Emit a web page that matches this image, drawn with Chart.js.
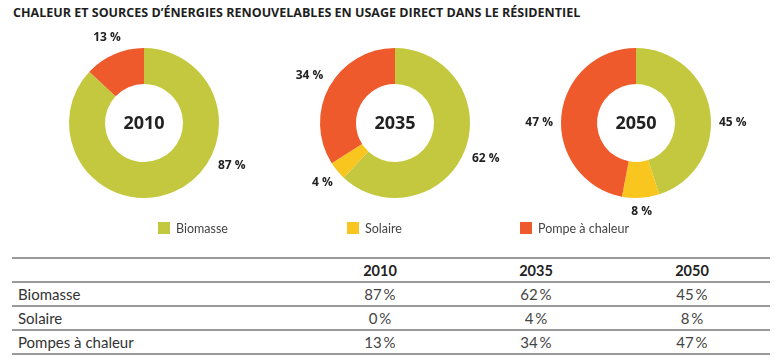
<!DOCTYPE html>
<html><head><meta charset="utf-8">
<script src="https://cdn.jsdelivr.net/npm/chart.js@4"></script>
<style>
html,body{margin:0;padding:0;background:#fff;}
body{width:779px;height:363px;position:relative;overflow:hidden;font-family:Lato,"Open Sans",sans-serif;color:#333;}
#title{position:absolute;left:13px;top:3px;font-weight:700;font-size:13px;color:#1e1e1e;white-space:nowrap;transform-origin:0 0;font-family:"Open Sans",sans-serif;}
.donut{position:absolute;top:23px;width:240px;height:200px;}
.lg{position:absolute;top:221px;display:flex;align-items:center;font-size:12.5px;color:#444;height:14px;white-space:nowrap;font-family:Lato,sans-serif;}
.lg .sw{width:12px;height:12px;margin-right:6px;display:inline-block;}
table{position:absolute;left:12px;top:257px;width:758px;border-collapse:collapse;font-size:15px;color:#444;table-layout:fixed;}
td,th{height:22px;padding:0;border-top:2px solid #9a9a9a;text-align:center;}
th{font-weight:700;color:#222;font-size:14.5px;}
td.lab{text-align:left;padding-left:6px;color:#333;}
tr:last-child td{border-bottom:2px solid #9a9a9a;}
</style>
</head>
<body>
<div id="title">CHALEUR ET SOURCES D’ÉNERGIES RENOUVELABLES EN USAGE DIRECT DANS LE RÉSIDENTIEL</div>
<canvas id="c0" class="donut" width="240" height="200" style="left:24px"></canvas>
<canvas id="c1" class="donut" width="240" height="200" style="left:275px"></canvas>
<canvas id="c2" class="donut" width="240" height="200" style="left:516px"></canvas>
<div id="legend"></div>
<table id="tbl">
<colgroup><col style="width:290px"><col style="width:156px"><col style="width:156px"><col style="width:156px"></colgroup>
</table>
<script>
// ---- data ----
const years = ['2010', '2035', '2050'];
const legendLabels = ['Biomasse', 'Solaire', 'Pompe à chaleur'];
const tableLabels = ['Biomasse', 'Solaire', 'Pompes à chaleur'];
const biomasse = [87, 62, 45];
const solaire = [0, 4, 8];
const pompe = [13, 34, 47];

// ---- style ----
const colors = ['#c4c83e', '#f9c61f', '#ef5a2c'];
const legendLeft = [158, 347, 520];
const labelAngleOverrides = [{0: 116}, {}, {0: 90, 2: 270}];

// title fit
const t = document.getElementById('title');
const tw = t.scrollWidth;
t.style.transform = 'scaleX(' + (567 / tw) + ')';

// legend
const lg = document.getElementById('legend');
legendLabels.forEach((l, i) => {
  const d = document.createElement('div');
  d.className = 'lg';
  d.style.left = legendLeft[i] + 'px';
  d.innerHTML = '<span class="sw" style="background:' + colors[i] + '"></span>' + l;
  lg.appendChild(d);
});

// table
const tbl = document.getElementById('tbl');
let html = '<tr><th></th>' + years.map(y => '<th>' + y + '</th>').join('') + '</tr>';
[biomasse, solaire, pompe].forEach((s, r) => {
  html += '<tr><td class="lab">' + tableLabels[r] + '</td>' + s.map(v => '<td>' + v + '\u2009%</td>').join('') + '</tr>';
});
tbl.insertAdjacentHTML('beforeend', html);

const donutLabels = {
  id: 'donutLabels',
  afterDraw(chart, args, opts) {
    const ctx = chart.ctx;
    const meta = chart.getDatasetMeta(0);
    const ds = chart.data.datasets[0];
    ctx.save();
    ctx.textAlign = 'center';
    ctx.textBaseline = 'middle';
    ctx.fillStyle = '#222';
    ctx.font = '700 12px "Open Sans", sans-serif';
    meta.data.forEach((arc, i) => {
      const v = ds.data[i];
      if (!v) return;
      const p = arc.getProps(['x', 'y', 'startAngle', 'endAngle', 'outerRadius'], true);
      let a = (p.startAngle + p.endAngle) / 2;
      const ov = opts.angles ? opts.angles[i] : undefined;
      if (ov !== undefined) a = ov * Math.PI / 180 - Math.PI / 2;
      const txt = v + ' %';
      const hw = ctx.measureText(txt).width / 2, hh = 5;
      const c = Math.cos(a), s = Math.sin(a);
      const d = p.outerRadius + 8 + Math.abs(c) * hw + Math.abs(s) * hh;
      ctx.fillText(txt, p.x + c * d, p.y + s * d);
    });
    const a0 = meta.data[0];
    ctx.font = '700 18px "Open Sans", sans-serif';
    ctx.fillStyle = '#222';
    ctx.fillText(opts.center, a0.x, a0.y + 1);
    ctx.restore();
  }
};

years.forEach((y, k) => {
  new Chart(document.getElementById('c' + k), {
    type: 'doughnut',
    data: {
      labels: legendLabels,
      datasets: [{
        data: [biomasse[k], solaire[k], pompe[k]],
        backgroundColor: colors,
        borderWidth: 0
      }]
    },
    options: {
      responsive: false,
      animation: false,
      radius: 75,
      cutout: '52%',
      layout: {padding: 0},
      plugins: {
        legend: {display: false},
        tooltip: {enabled: false},
        donutLabels: {center: y, angles: labelAngleOverrides[k]}
      }
    },
    plugins: [donutLabels]
  });
});
</script>
</body></html>
